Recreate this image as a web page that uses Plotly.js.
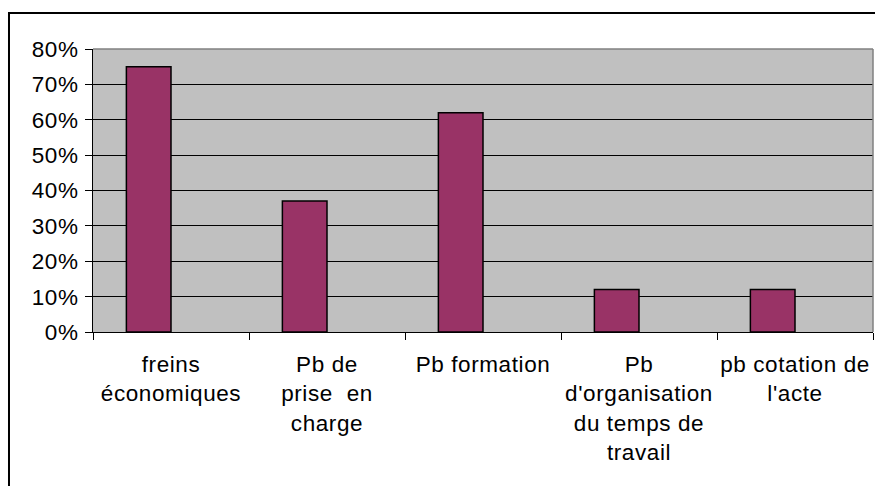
<!DOCTYPE html>
<html>
<head>
<meta charset="utf-8">
<script src="https://cdn.plot.ly/plotly-3.0.1.min.js"></script>
<style>
html,body{margin:0;padding:0;background:#fff;}
.xtick text, .ytick text { letter-spacing: 0.6px; }
</style>
</head>
<body>
<div id="chart" style="width:875px;height:486px;"></div>
<script>
const categories = ["freins économiques", "Pb de prise en charge", "Pb formation", "Pb d'organisation du temps de travail", "pb cotation de l'acte"];
const tickLabels = ["freins<br>économiques", "Pb de<br>prise  en<br>charge", "Pb formation", "Pb<br>d'organisation<br>du temps de<br>travail", "pb cotation de<br>l'acte"];
const values = [0.75, 0.37, 0.62, 0.12, 0.12];

const font = {family: "Liberation Sans, Arial, sans-serif", size: 22.5, color: "#000"};

const trace = {
  type: "bar",
  x: categories,
  y: values,
  width: 0.286,
  offset: -0.286,
  marker: {color: "#993366", line: {color: "#000", width: 1.5}},
  hoverinfo: "skip"
};

const layout = {
  width: 875, height: 486,
  margin: {l: 93, r: 2, t: 49, b: 154, pad: 0},
  paper_bgcolor: "#fff",
  plot_bgcolor: "#C0C0C0",
  font: font,
  showlegend: false,
  bargap: 0,
  xaxis: {
    type: "category",
    tickmode: "array",
    tickvals: categories,
    ticktext: tickLabels,
    tickson: "boundaries",
    ticks: "outside", ticklen: 7, tickcolor: "#000", tickwidth: 1,
    ticklabelstandoff: 12,
    showline: true, linecolor: "#000", linewidth: 1,
    showgrid: false, zeroline: false,
    tickangle: 0,
    tickfont: font,
    range: [-0.5, 4.5],
    fixedrange: true
  },
  yaxis: {
    range: [0, 0.8],
    dtick: 0.1,
    tick0: 0,
    tickformat: ".0%",
    ticks: "outside", ticklen: 7, tickcolor: "#000", tickwidth: 1,
    ticklabelstandoff: 2,
    showline: true, linecolor: "#000", linewidth: 1,
    showgrid: true, gridcolor: "#000", gridwidth: 1,
    zeroline: false,
    tickfont: font,
    fixedrange: true
  },
  shapes: [
    {type: "line", xref: "paper", yref: "paper", x0: 0, x1: 1, y0: 1, y1: 1, line: {color: "#808080", width: 1.5}, layer: "above"},
    {type: "line", xref: "paper", yref: "paper", x0: 1, x1: 1, y0: 0, y1: 1, line: {color: "#808080", width: 1.5}, layer: "above"},
    {type: "rect", xref: "paper", yref: "paper", x0: -0.1077, x1: 1.02, y0: -0.6, y1: 1.127, line: {color: "#000", width: 2}, fillcolor: "rgba(0,0,0,0)", layer: "above"}
  ]
};

Plotly.newPlot("chart", [trace], layout, {staticPlot: true, displayModeBar: false});
</script>
</body>
</html>
